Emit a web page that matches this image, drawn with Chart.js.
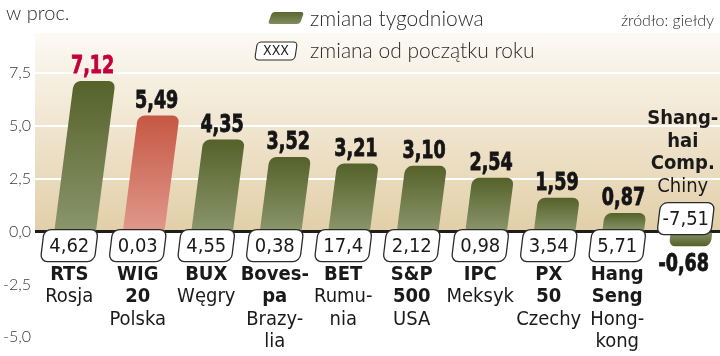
<!DOCTYPE html>
<html><head><meta charset="utf-8">
<script src="https://cdn.jsdelivr.net/npm/chart.js@4"></script>
<style>html,body{margin:0;padding:0;background:#fff}canvas{display:block}</style>
</head><body>
<canvas id="c" width="720" height="356"></canvas>
<script>
// ---- data ----
const categories = ['RTS', 'WIG 20', 'BUX', 'Bovespa', 'BET', 'S&P 500', 'IPC', 'PX 50', 'Hang Seng', 'Shanghai Comp.'];
const indexNames = [['RTS'], ['WIG', '20'], ['BUX'], ['Boves-', 'pa'], ['BET'], ['S&P', '500'], ['IPC'], ['PX', '50'], ['Hang', 'Seng'], ['Shang-', 'hai', 'Comp.']];
const countryNames = [['Rosja'], ['Polska'], ['Węgry'], ['Brazy-', 'lia'], ['Rumu-', 'nia'], ['USA'], ['Meksyk'], ['Czechy'], ['Hong-', 'kong'], ['Chiny']];
const weeklyChange = [7.12, 5.49, 4.35, 3.52, 3.21, 3.10, 2.54, 1.59, 0.87, -0.68];
const ytdChange = [4.62, 0.03, 4.55, 0.38, 17.4, 2.12, 0.98, 3.54, 5.71, -7.51];
const yTicks = [-5, -2.5, 0, 2.5, 5, 7.5];
const unitLabel = 'w proc.';
const sourceLabel = 'źródło: giełdy';
const legendWeekly = 'zmiana tygodniowa';
const legendYtd = 'zmiana od początku roku';
const highlightBar = 1;     // WIG 20 drawn in red
const highlightValue = 0;   // RTS value label in crimson

// ---- style ----
const SKEW = 0.13;
const COND = "'DejaVu Sans Condensed', 'DejaVu Sans', sans-serif";
const LIGHT = "Lato, 'Open Sans', sans-serif";

function fmt(v, d) { return v.toFixed(d).replace('.', ','); }
function fmtYtd(v) { return fmt(v, Math.abs(v) >= 10 ? 1 : 2); }
function skew(ctx, k, yRef) { ctx.transform(1, 0, -k, 1, k * yRef, 0); }

function barFill(c) {
  const chart = c.chart, ys = chart.scales.y;
  const red = c.dataIndex === highlightBar;
  if (!ys || !chart.chartArea || c.raw === undefined) return red ? '#d07260' : '#6b7740';
  const y0 = ys.getPixelForValue(0), y1 = ys.getPixelForValue(c.raw);
  const g = chart.ctx.createLinearGradient(0, y1, 0, y0 === y1 ? y0 + 1 : y0);
  if (red) { g.addColorStop(0, '#c65843'); g.addColorStop(1, '#e0988c'); }
  else { g.addColorStop(0, '#56622a'); g.addColorStop(1, '#8a966c'); }
  return g;
}

const decor = {
  id: 'decor',
  beforeDraw(chart) {
    const { ctx, chartArea: a } = chart;
    const y0 = chart.scales.y.getPixelForValue(0);
    ctx.save();
    ctx.fillStyle = '#ffffff';
    ctx.fillRect(0, 0, chart.width, chart.height);
    const g = ctx.createLinearGradient(0, 33, 0, y0);
    g.addColorStop(0, '#fcfaf4');
    g.addColorStop(0.35, '#f3ead8');
    g.addColorStop(1, '#e2cfa8');
    ctx.fillStyle = g;
    ctx.fillRect(a.left, 33, a.right - a.left, y0 - 33);
    ctx.restore();
  },
  beforeDatasetsDraw(chart) {
    const y0 = chart.scales.y.getPixelForValue(0);
    chart.ctx.save();
    skew(chart.ctx, SKEW, y0 + 45);
  },
  afterDatasetsDraw(chart) {
    chart.ctx.restore();
  },
  afterDraw(chart) {
    const { ctx } = chart;
    const xs = chart.scales.x, ys = chart.scales.y;
    const y0 = ys.getPixelForValue(0);
    const yRef = y0 + 45;
    ctx.save();
    weeklyChange.forEach((v, i) => {
      const xc = xs.getPixelForValue(i);
      const yv = ys.getPixelForValue(v);
      // value label
      const col = i === highlightValue ? '#c4003a' : '#151515';
      ctx.fillStyle = col;
      ctx.strokeStyle = col;
      ctx.lineWidth = 0.8;
      ctx.font = 'bold 25px ' + COND;
      ctx.textAlign = 'center';
      ctx.textBaseline = 'alphabetic';
      const base = v >= 0 ? yv - 8 : yv + 25;
      const lx = xc + SKEW * (yRef - yv) - (v >= 0 ? 2 : 6);
      ctx.save();
      ctx.translate(lx, base);
      ctx.scale(0.78, 1);
      ctx.fillText(fmt(v, 2), 0, 0);
      ctx.strokeText(fmt(v, 2), 0, 0);
      ctx.restore();
      // ytd box
      const cy = v >= 0 ? y0 + 14 : y0 - 13;
      ctx.save();
      ctx.translate(xc, cy);
      ctx.transform(1, 0, -0.12, 1, 0, 0);
      ctx.beginPath();
      ctx.roundRect(-27, -16, 54, 32, 7);
      ctx.fillStyle = '#ffffff';
      ctx.fill();
      ctx.lineWidth = 1.3;
      ctx.strokeStyle = '#2a2a2a';
      ctx.stroke();
      ctx.restore();
      ctx.fillStyle = '#1a1a1a';
      ctx.font = '20px ' + COND;
      ctx.textBaseline = 'middle';
      ctx.fillText(fmtYtd(ytdChange[i]), xc, cy + 1);
      // names
      const lines = indexNames[i].map(t => [t, true]).concat(countryNames[i].map(t => [t, false]));
      const lh = 22.5;
      let start = v >= 0 ? cy + 16 + 13 : cy - 16 - 16 - (lines.length - 1) * lh;
      lines.forEach(([t, b], j) => {
        ctx.font = (b ? 'bold ' : '') + '20px ' + COND;
        ctx.fillStyle = '#1a1a1a';
        ctx.fillText(t, xc - (v >= 0 ? 0 : 3), start + j * lh);
      });
    });
    // header texts
    ctx.textAlign = 'left';
    ctx.textBaseline = 'middle';
    ctx.fillStyle = '#2b2b2b';
    ctx.font = '300 20px ' + LIGHT;
    ctx.fillText(unitLabel, 6, 14);
    ctx.font = '300 21px ' + LIGHT;
    ctx.fillText(legendWeekly, 310, 19);
    ctx.fillText(legendYtd, 310, 51);
    ctx.font = '300 16px ' + LIGHT;
    ctx.textAlign = 'right';
    ctx.fillText(sourceLabel, 714, 21);
    // legend swatch
    ctx.save();
    ctx.translate(286, 18);
    ctx.transform(1, 0, -0.35, 1, 0, 0);
    const sg = ctx.createLinearGradient(0, -6, 0, 6);
    sg.addColorStop(0, '#5a662e'); sg.addColorStop(1, '#808c5e');
    ctx.beginPath(); ctx.roundRect(-16, -6, 32, 12, 3);
    ctx.fillStyle = sg; ctx.fill();
    ctx.restore();
    // legend box
    ctx.save();
    ctx.translate(276, 51);
    ctx.transform(1, 0, -0.15, 1, 0, 0);
    ctx.beginPath(); ctx.roundRect(-20, -9, 40, 18, 4);
    ctx.fillStyle = '#ffffff'; ctx.fill();
    ctx.lineWidth = 1.1; ctx.strokeStyle = '#2a2a2a'; ctx.stroke();
    ctx.restore();
    ctx.font = '14px ' + COND;
    ctx.textAlign = 'center';
    ctx.fillStyle = '#1a1a1a';
    ctx.fillText('XXX', 276, 51);
    ctx.restore();
  }
};

new Chart(document.getElementById('c'), {
  type: 'bar',
  data: {
    labels: categories,
    datasets: [{
      label: legendWeekly,
      data: weeklyChange,
      backgroundColor: barFill,
      borderRadius: 7,
      borderSkipped: 'start',
      barThickness: 41
    }]
  },
  options: {
    responsive: false,
    devicePixelRatio: 1,
    animation: false,
    layout: { padding: { top: 29, bottom: 0, left: 0, right: 0 } },
    plugins: { legend: { display: false }, tooltip: { enabled: false } },
    scales: {
      x: { display: false },
      y: {
        min: -5.25,
        max: 9.6,
        afterFit(s) { s.width = 35; },
        afterBuildTicks(s) { s.ticks = yTicks.map(v => ({ value: v })); },
        border: { display: false },
        grid: {
          drawTicks: false,
          color: c => c.tick && c.tick.value === 0 ? '#1e1e1e' : (c.tick && c.tick.value > 0 ? '#ffffff' : 'rgba(0,0,0,0)'),
          lineWidth: c => c.tick && c.tick.value === 0 ? 3 : 2
        },
        ticks: {
          padding: 4,
          color: '#3a3a3a',
          font: { family: LIGHT, size: 16, weight: '300' },
          callback: v => fmt(v, 1)
        }
      }
    }
  },
  plugins: [decor]
});
</script>
</body></html>
